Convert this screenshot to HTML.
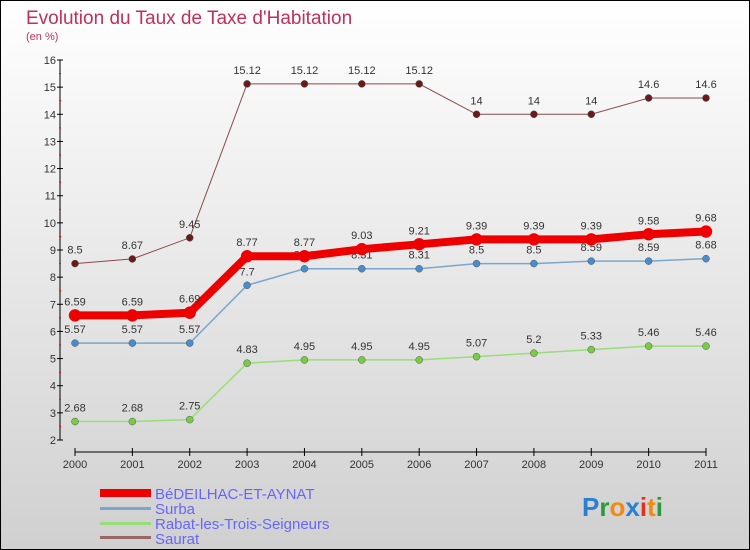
<!DOCTYPE html>
<html><head><meta charset="utf-8"><style>
body{margin:0}
#wrap{width:750px;height:550px;position:relative;box-sizing:border-box;border:1px solid #000;background:linear-gradient(#fff,#d0d0d0);font-family:"Liberation Sans",sans-serif;overflow:hidden}
</style></head><body>
<div id="wrap">
<svg id="svg" width="750" height="550" style="position:absolute;left:-1px;top:-1px" font-family="Liberation Sans, sans-serif">
<text x="26" y="24" font-size="19" fill="#c0305a">Evolution du Taux de Taxe d'Habitation</text>
<text x="26" y="40" font-size="11" fill="#c0305a">(en %)</text>
<g id="axes"></g><g id="series"></g>
<g>
<rect x="100" y="489" width="51" height="8" fill="#ee0000"/>
<text x="155" y="499" font-size="15" fill="#6666ff">BéDEILHAC-ET-AYNAT</text>
<rect x="100" y="507" width="51" height="3" fill="#7aa6cc"/>
<text x="155" y="514" font-size="15" fill="#6666ff">Surba</text>
<rect x="100" y="522" width="51" height="3" fill="#99dd77"/>
<text x="155" y="529" font-size="15" fill="#6666ff">Rabat-les-Trois-Seigneurs</text>
<rect x="100" y="536" width="51" height="3" fill="#996666"/>
<text x="155" y="544" font-size="15" fill="#6666ff">Saurat</text>
</g>
<text x="582" y="516" font-size="26" font-weight="bold"><tspan fill="#2a7fd0">P</tspan><tspan fill="#2a9a3a">r</tspan><tspan fill="#f08a10">o</tspan><tspan fill="#2a7fd0">x</tspan><tspan fill="#e03020">i</tspan><tspan fill="#f08a10">t</tspan><tspan fill="#2a9a3a">i</tspan></text>
</svg>
</div>
<script>
const years=[2000,2001,2002,2003,2004,2005,2006,2007,2008,2009,2010,2011];
const bedeilhac=[6.59,6.59,6.69,8.77,8.77,9.03,9.21,9.39,9.39,9.39,9.58,9.68];
const surba=[5.57,5.57,5.57,7.7,8.31,8.31,8.31,8.5,8.5,8.59,8.59,8.68];
const rabat=[2.68,2.68,2.75,4.83,4.95,4.95,4.95,5.07,5.2,5.33,5.46,5.46];
const saurat=[8.5,8.67,9.45,15.12,15.12,15.12,15.12,14,14,14,14.6,14.6];
const yTicks=[2,3,4,5,6,7,8,9,10,11,12,13,14,15,16];
const NS="http://www.w3.org/2000/svg";
const xs=i=>75+i*(706-75)/(years.length-1);
const ys=v=>440-(v-2)*(380/14);
function mk(t,a,p){const e=document.createElementNS(NS,t);for(const k in a)e.setAttribute(k,a[k]);p.appendChild(e);return e;}
const ax=document.getElementById('axes');
let l=mk('line',{x1:60,y1:60,x2:60,y2:440,stroke:'#000','stroke-width':1},ax);


yTicks.forEach(v=>{
  mk('line',{x1:57,x2:63,y1:ys(v),y2:ys(v),stroke:'#000'},ax);
  if(v<16)mk('line',{x1:59,x2:61,y1:ys(v+0.5),y2:ys(v+0.5),stroke:'#f00'},ax);
  const t=mk('text',{x:56,y:ys(v)+4,'font-size':11,fill:'#333','text-anchor':'end'},ax);t.textContent=v;
  
  
});
l=mk('line',{x1:75,y1:452,x2:706,y2:452,stroke:'#000'},ax);


years.forEach((y,i)=>{
  mk('line',{x1:xs(i),x2:xs(i),y1:448,y2:456,stroke:'#000'},ax);
  const t=mk('text',{x:xs(i),y:468,'font-size':11,fill:'#333','text-anchor':'middle'},ax);t.textContent=y;
  
  
});
const sg=document.getElementById('series');
function series(data,name,color,dot,w,r){
  const g=mk('g',{},sg);
  
  
  const p=mk('polyline',{points:data.map((v,i)=>xs(i)+','+ys(v)).join(' '),fill:'none',stroke:color,'stroke-width':w},g);
  
  
  data.forEach((v,i)=>{
    const c=mk('circle',{cx:xs(i),cy:ys(v),r:r,fill:dot,stroke:color==='#ee0000'?'#ee0000':'#555','stroke-width':0.5},g);
    
    
    const t=mk('text',{x:xs(i),y:ys(v)-10,'font-size':11,fill:'#333','text-anchor':'middle'},g);t.textContent=v;
    
    
  });
}
series(saurat,'saurat','#8a4a4a','#6b1a1a',1,3.5);
series(rabat,'rabat','#99dd77','#77cc44',1.5,3.5);
series(surba,'surba','#7aa6cc','#4a8ccc',1.5,3.5);
series(bedeilhac,'bedeilhac','#ee0000','#ee0000',8,6);
</script>
</body></html>
